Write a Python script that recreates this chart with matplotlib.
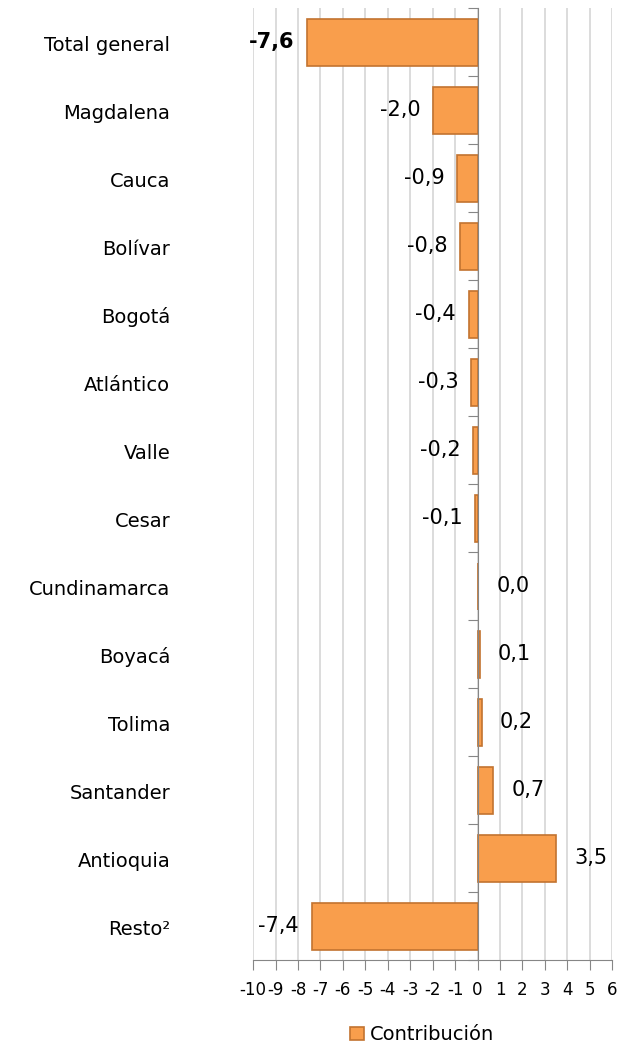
import matplotlib.pyplot as plt
import matplotlib.transforms as mtransforms

plt.rcParams['font.family'] = ['DejaVu Sans']

# datos
regiones = ['Total general', 'Magdalena', 'Cauca', 'Bolívar', 'Bogotá', 'Atlántico',
            'Valle', 'Cesar', 'Cundinamarca', 'Boyacá', 'Tolima', 'Santander',
            'Antioquia', 'Resto²']
contribucion = [-7.6, -2.0, -0.9, -0.8, -0.4, -0.3, -0.2, -0.1, 0.04, 0.1, 0.2, 0.7, 3.5, -7.4]
etiquetas = ['-7,6', '-2,0', '-0,9', '-0,8', '-0,4', '-0,3', '-0,2', '-0,1',
             '0,0', '0,1', '0,2', '0,7', '3,5', '-7,4']
xticks = list(range(-10, 7))

fig = plt.figure(figsize=(6.19, 10.44), dpi=100)
ax = fig.add_axes([0.409, 0.080, 0.580, 0.912])

ys = list(range(len(regiones)))
ax.barh(ys, contribucion, height=0.7, color='#F99E4C', edgecolor='#C27330',
        linewidth=1.2, label='Contribución', zorder=3)

ax.set_xlim(-10, 6)
ax.set_ylim(len(regiones) - 0.5, -0.5)
ax.set_xticks(xticks)
ax.set_xticklabels([str(v) for v in xticks], fontsize=12)
ax.grid(axis='x', color='#D9D9D9', linewidth=1.3, zorder=0)

# eje y en cero
ax.spines['left'].set_position(('data', 0))
for s in ['top', 'right']:
    ax.spines[s].set_visible(False)
ax.spines['left'].set_color('#868686')
ax.spines['bottom'].set_color('#868686')
ax.spines['left'].set_zorder(4)
ax.tick_params(axis='x', colors='#868686', length=7, labelcolor='black', pad=8)
ax.set_yticks([y - 0.5 for y in range(len(regiones) + 1)])
ax.set_yticklabels([])
ax.tick_params(axis='y', colors='#868686', length=7)

# nombres de categorias
trans = mtransforms.blended_transform_factory(ax.transAxes, ax.transData)
for y, r in zip(ys, regiones):
    ax.text(-0.231, y + 0.04, r, transform=trans, ha='right', va='center', fontsize=14)

# etiquetas de valores
for y, v, t in zip(ys, contribucion, etiquetas):
    peso = 'bold' if y == 0 else 'normal'
    if v < 0:
        ax.annotate(t, (v, y), xytext=(-9, 0), textcoords='offset points',
                    ha='right', va='center', fontsize=15, fontweight=peso)
    else:
        ax.annotate(t, (v, y), xytext=(13, 0), textcoords='offset points',
                    ha='left', va='center', fontsize=15, fontweight=peso)

ax.legend(loc='center', bbox_to_anchor=(0.47, -0.078), frameon=False, fontsize=14,
          handlelength=0.7, handleheight=0.7, handletextpad=0.3)

plt.savefig('out.png', dpi=100)
